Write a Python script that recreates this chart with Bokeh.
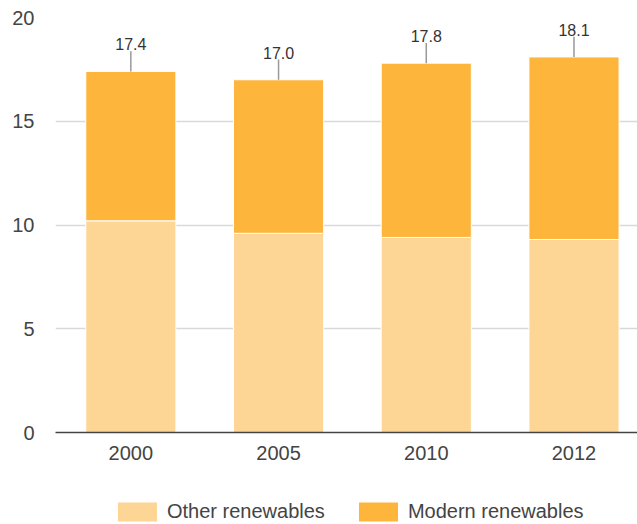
from bokeh.plotting import figure
from bokeh.layouts import column
from bokeh.models import Range1d, Legend, LegendItem, ColumnDataSource, FixedTicker
from bokeh.core.properties import value
from bokeh.embed import file_html
from bokeh.resources import INLINE

years = ["2000", "2005", "2010", "2012"]
other = [10.2, 9.6, 9.4, 9.3]
modern = [7.2, 7.4, 8.4, 8.8]
totals = [17.4, 17.0, 17.8, 18.1]
total_labels = ["17.4", "17.0", "17.8", "18.1"]
series_names = ["Other renewables", "Modern renewables"]
y_ticks = [0, 5, 10, 15, 20]

FONT = "Liberation Sans"
C_OTHER = "#fdd594"
C_MODERN = "#fdb53c"
LEADER = 0.97  # leader line length in data units

xpos = [i + 0.5 for i in range(len(years))]

src = ColumnDataSource(dict(
    x=xpos, other=other, modern=modern, total=totals,
    top=[t + LEADER for t in totals], label=total_labels,
))

p = figure(
    x_range=Range1d(-0.01, 3.93),
    y_range=Range1d(0, 20),
    width=637, height=470,
    output_backend="svg", toolbar_location=None,
    min_border_left=55, min_border_right=0, min_border_top=17, min_border_bottom=38,
)
p.outline_line_color = None

p.xgrid.grid_line_color = None
p.ygrid.grid_line_color = "#d9d9d9"
p.ygrid.grid_line_width = 1.5
p.ygrid.ticker = FixedTicker(ticks=y_ticks)

p.yaxis.ticker = FixedTicker(ticks=y_ticks)
p.yaxis.axis_line_color = None
p.yaxis.major_tick_line_color = None
p.yaxis.minor_tick_line_color = None
p.yaxis.major_label_standoff = 15
p.yaxis.major_label_text_font = FONT
p.yaxis.major_label_text_font_size = "20px"
p.yaxis.major_label_text_color = "#444444"

p.xaxis.ticker = FixedTicker(ticks=xpos)
p.xaxis.major_label_overrides = {x: y for x, y in zip(xpos, years)}
p.xaxis.axis_line_color = "#444444"
p.xaxis.axis_line_width = 1.5
p.xaxis.major_tick_line_color = None
p.xaxis.minor_tick_line_color = None
p.xaxis.major_label_standoff = 7
p.xaxis.major_label_text_font = FONT
p.xaxis.major_label_text_font_size = "20px"
p.xaxis.major_label_text_color = "#444444"

rs = p.vbar_stack(["other", "modern"], x="x", width=0.61, source=src,
                  fill_color=[C_OTHER, C_MODERN], line_color="white", line_width=1)

p.segment(x0="x", y0="total", x1="x", y1="top", source=src,
          line_color="#999999", line_width=1.5)
p.text(x="x", y="top", text="label", source=src, text_align="center",
       text_baseline="bottom", y_offset=-1, text_font=value(FONT),
       text_font_size="16px", text_color="#333333")

# legend strip below the chart (its frame is aligned with the chart's frame)
lg = figure(width=637, height=54, x_range=Range1d(0, 1), y_range=Range1d(0, 1),
            output_backend="svg", toolbar_location=None,
            x_axis_location=None, y_axis_location=None,
            min_border_left=0, min_border_right=0, min_border_top=0, min_border_bottom=0)
lg.outline_line_color = None
lg.grid.visible = False
# swatch renderers kept outside the visible range
swatch = ColumnDataSource(dict(x=[-5], top=[0]))
d1 = lg.vbar(x="x", top="top", width=0.1, source=swatch, fill_color=C_OTHER,
             line_color="white", line_width=1)
d2 = lg.vbar(x="x", top="top", width=0.1, source=swatch, fill_color=C_MODERN,
             line_color="white", line_width=1)

legend = Legend(
    items=[LegendItem(label=series_names[0], renderers=[d1]),
           LegendItem(label=series_names[1], renderers=[d2])],
    location=(57, 0), orientation="horizontal",
    glyph_width=50, glyph_height=25, label_height=25, label_standoff=5,
    spacing=28, padding=0, margin=0,
    border_line_color=None, background_fill_alpha=0,
    label_text_font=FONT, label_text_font_size="20px", label_text_color="#444444",
)
lg.add_layout(legend)

layout = column(p, lg, spacing=0)
open("out.html", "w").write(file_html(layout, INLINE))
